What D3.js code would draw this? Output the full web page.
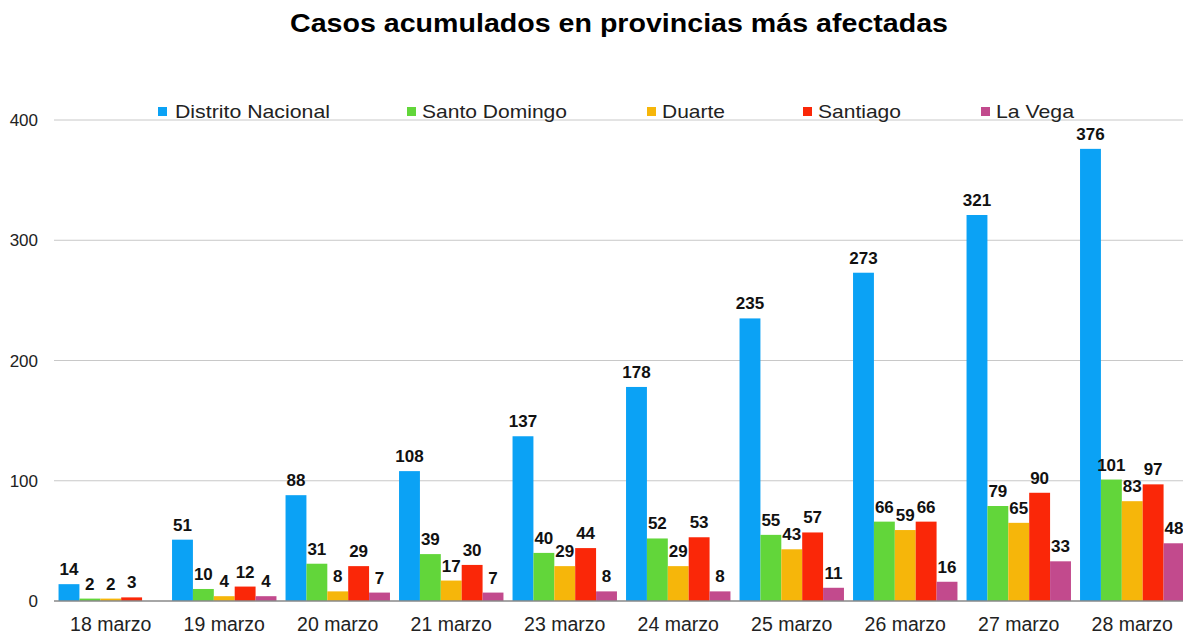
<!DOCTYPE html>
<html>
<head>
<meta charset="utf-8">
<script src="https://cdn.jsdelivr.net/npm/d3@7"></script>
<style>
  body { margin:0; background:#fff; font-family: "Liberation Sans", Arial, sans-serif; }
</style>
</head>
<body>
<div id="chart-area"></div>
<script>
// data
var fechas = ["18 marzo","19 marzo","20 marzo","21 marzo","23 marzo","24 marzo","25 marzo","26 marzo","27 marzo","28 marzo"];
var provincias = ["Distrito Nacional","Santo Domingo","Duarte","Santiago","La Vega"];
var distritoNacional = [14, 51, 88, 108, 137, 178, 235, 273, 321, 376];
var santoDomingo     = [2, 10, 31, 39, 40, 52, 55, 66, 79, 101];
var duarte           = [2, 4, 8, 17, 29, 29, 43, 59, 65, 83];
var santiago         = [3, 12, 29, 30, 44, 53, 57, 66, 90, 97];
var laVega           = [null, 4, 7, 7, 8, 8, 11, 16, 33, 48];
var yTicks = [0, 100, 200, 300, 400];
var colores = ["#0ba2f5","#62d63a","#f6b60a","#fa2708","#c24a8d"];

var series = [distritoNacional, santoDomingo, duarte, santiago, laVega];

var W = 1183, H = 637;
var svg = d3.select("#chart-area").append("svg")
    .attr("width", W).attr("height", H);

// title
svg.append("text")
    .attr("x", 290).attr("y", 32)
    .attr("font-size", "26px").attr("font-weight", "bold")
    .attr("textLength", 658).attr("lengthAdjust", "spacingAndGlyphs")
    .attr("fill", "#000")
    .text("Casos acumulados en provincias más afectadas");

// scales
var x0 = d3.scaleBand().domain(fechas).range([54, 1189]).paddingInner(0.08).paddingOuter(0.04);
var x1 = d3.scaleBand().domain(provincias).range([0, x0.bandwidth()]);
var y = d3.scaleLinear().domain([0, 400]).range([601, 120]);

// grid
svg.append("g").selectAll("line").data(yTicks.filter(d => d > 0)).enter().append("line")
    .attr("x1", 54).attr("x2", W)
    .attr("y1", d => y(d)).attr("y2", d => y(d))
    .attr("stroke", "#c8c8c8").attr("stroke-width", 1);

// y tick labels
svg.append("g").selectAll("text").data(yTicks).enter().append("text")
    .attr("x", 38).attr("y", d => y(d) + 6)
    .attr("text-anchor", "end")
    .attr("font-size", "17px").attr("fill", "#222")
    .text(d => d);

// bars
var grupos = svg.append("g").selectAll("g").data(fechas).enter().append("g")
    .attr("transform", d => "translate(" + x0(d) + ",0)");

grupos.each(function(f, i) {
  var g = d3.select(this);
  var vals = provincias.map((p, j) => ({ p: p, v: series[j][i], c: colores[j] }))
      .filter(d => d.v != null);
  g.selectAll("rect").data(vals).enter().append("rect")
      .attr("x", d => x1(d.p))
      .attr("y", d => y(d.v))
      .attr("width", x1.bandwidth())
      .attr("height", d => y(0) - y(d.v))
      .attr("fill", d => d.c);
  g.selectAll("text").data(vals).enter().append("text")
      .attr("x", d => x1(d.p) + x1.bandwidth() / 2)
      .attr("y", d => y(d.v) - 9)
      .attr("text-anchor", "middle")
      .attr("font-size", "17px").attr("font-weight", "bold")
      .attr("fill", "#111")
      .text(d => d.v);
});

// baseline
svg.append("line")
    .attr("x1", 54).attr("x2", W)
    .attr("y1", y(0)).attr("y2", y(0))
    .attr("stroke", "#888").attr("stroke-width", 1.5);

// x labels
svg.append("g").selectAll("text").data(fechas).enter().append("text")
    .attr("x", d => x0(d) + x0.bandwidth() / 2)
    .attr("y", 631)
    .attr("text-anchor", "middle")
    .attr("font-size", "19.5px").attr("fill", "#222")
    .text(d => d);

// legend
var legendX = [158, 407, 647, 803, 981];
var legendW = [155, 145, 63, 83, 78];
var legend = svg.append("g").selectAll("g").data(provincias).enter().append("g")
    .attr("transform", (d, i) => "translate(" + legendX[i] + ",107)");
legend.append("rect")
    .attr("width", 9).attr("height", 9)
    .attr("fill", (d, i) => colores[i]);
legend.append("text")
    .attr("x", (d, i) => i == 0 ? 17 : 15).attr("y", 11)
    .attr("font-size", "18.5px").attr("fill", "#222")
    .attr("textLength", (d, i) => legendW[i]).attr("lengthAdjust", "spacingAndGlyphs")
    .text(d => d);
</script>
</body>
</html>
